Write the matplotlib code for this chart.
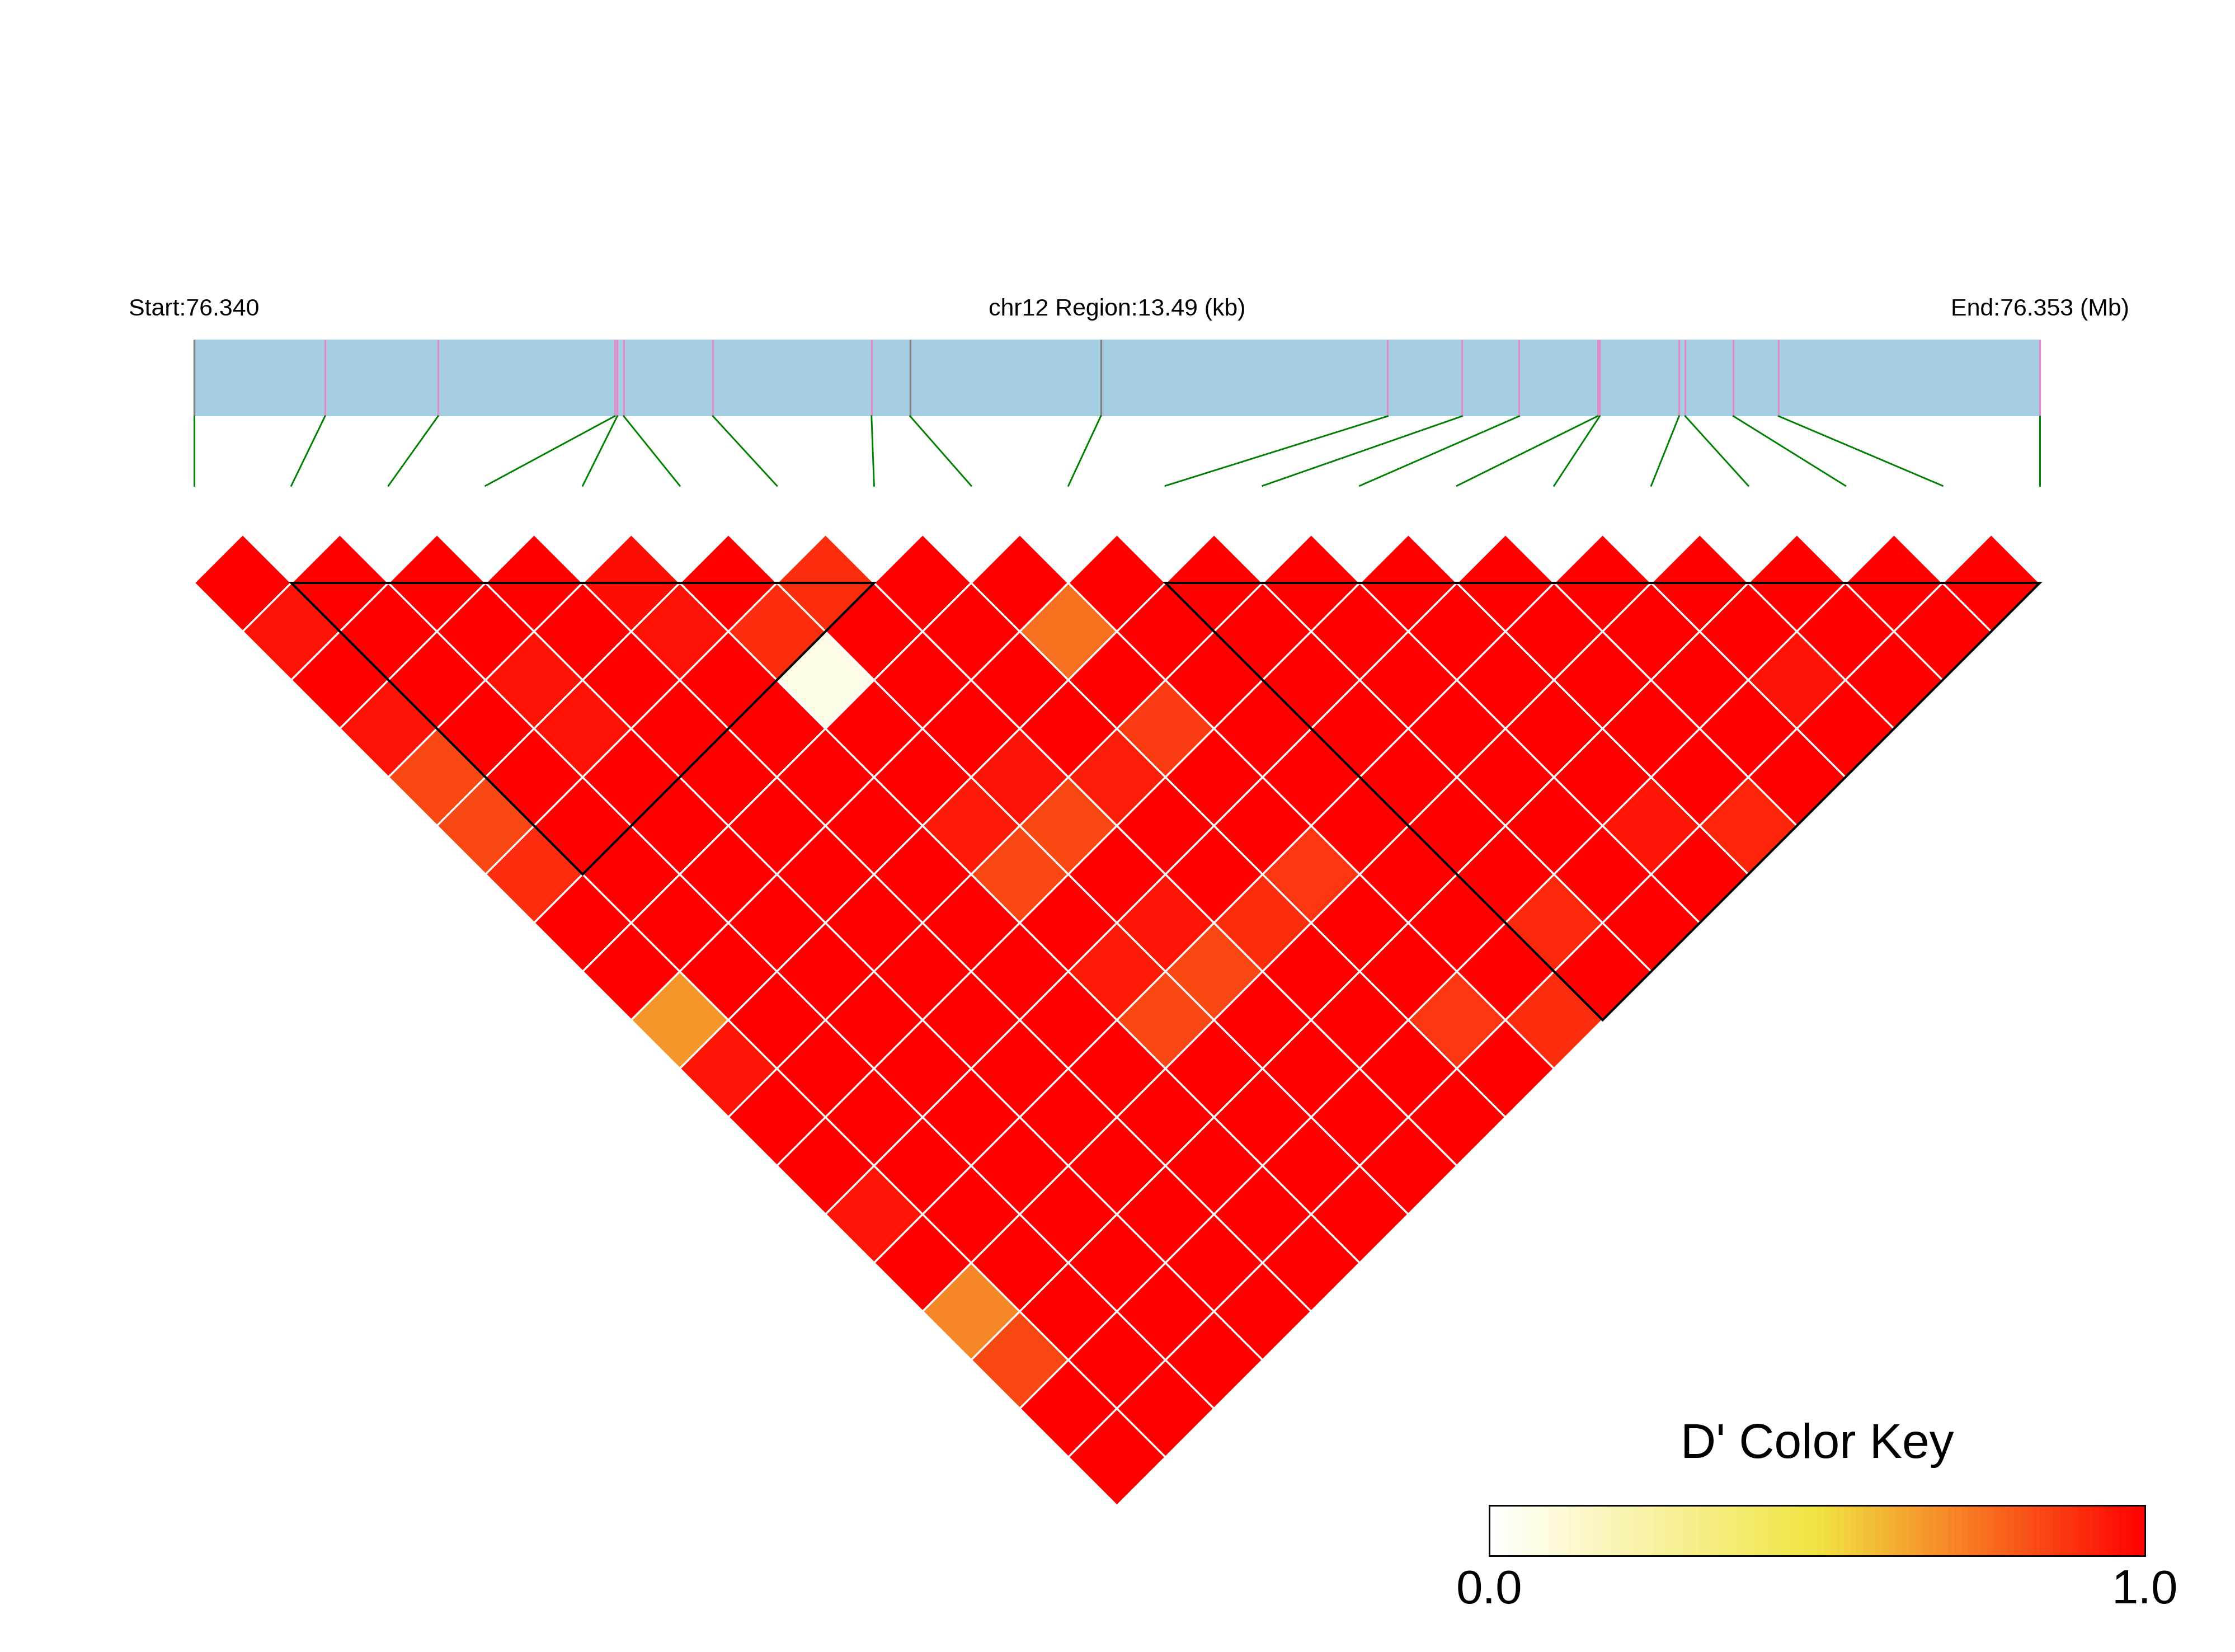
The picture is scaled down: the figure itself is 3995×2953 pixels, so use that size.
import numpy as np
import matplotlib
matplotlib.use("Agg")
import matplotlib.pyplot as plt
from matplotlib.colors import LinearSegmentedColormap
from matplotlib.patches import Polygon, Rectangle

plt.rcParams['font.family'] = ['Liberation Sans', 'DejaVu Sans']

# ---------------- data ----------------
chrom = "chr12"
snp_pos = [76339850, 76340807, 76341633, 76342924, 76342943, 76342990,
           76343642, 76344801, 76345083, 76346477, 76348574, 76349118,
           76349535, 76350108, 76350124, 76350704, 76350749, 76351101,
           76351432, 76353340]

# D' rows: row i holds D'(i, j) for j = i+1 .. 19
dprime_rows = [
    [1, 0.96, 1, 0.96, 0.84, 0.84, 0.90, 1, 1, 0.67, 0.95, 1, 1, 0.95, 1, 0.70, 0.84, 1, 1],
    [1, 1, 1, 1, 1, 1, 1, 1, 1, 1, 1, 1, 1, 1, 1, 1, 1, 1],
    [1, 1, 0.96, 0.96, 1, 1, 1, 1, 1, 1, 1, 1, 1, 1, 1, 1, 1],
    [1, 1, 1, 1, 1, 1, 1, 1, 1, 1, 1, 1, 1, 1, 1, 1],
    [0.97, 0.96, 1, 1, 1, 1, 1, 1, 1, 1, 1, 1, 1, 1, 1],
    [1, 0.90, 0.07, 1, 1, 0.94, 0.84, 1, 0.94, 0.84, 1, 1, 1, 1],
    [0.90, 1, 1, 1, 0.96, 0.84, 1, 0.95, 0.84, 1, 1, 1, 1],
    [1, 1, 1, 1, 0.93, 1, 1, 0.90, 1, 1, 1, 1],
    [1, 0.75, 1, 0.87, 1, 1, 0.88, 1, 1, 0.88, 1],
    [1, 1, 1, 1, 1, 1, 1, 1, 1, 0.90],
    [1, 1, 1, 1, 1, 1, 1, 0.91, 1],
    [1, 1, 1, 1, 1, 1, 1, 1],
    [1, 1, 1, 1, 1, 0.95, 1],
    [1, 1, 1, 1, 1, 0.92],
    [1, 1, 1, 1, 1],
    [1, 1, 0.96, 1],
    [1, 1, 1],
    [1, 1],
    [1],
]

blocks = [(1, 7), (10, 19)]   # first and last SNP index of each LD block

key_title = "D' Color Key"
key_ticks = ["0.0", "1.0"]

# ---------------- style ----------------
cmap = LinearSegmentedColormap.from_list("ldkey", ["#FFFFFF", "#F0E442", "#FF0000"])
bar_color = "#A6CEE3"
in_block_color = "#E08CC8"
out_block_color = "#808080"
link_color = "#008000"

W, H, DPI = 3995, 2953, 300
fig = plt.figure(figsize=(W / DPI, H / DPI), dpi=DPI)
ax = fig.add_axes([0, 0, 1, 1])
ax.set_axis_off()

unit = 173.63            # pixels per SNP step
x0_px, top_px = 347.0, 1042.0
ax.set_xlim(-x0_px / unit, -x0_px / unit + W / unit)
ax.set_ylim(top_px / unit - H / unit, top_px / unit)

n = len(snp_pos)

# ---- LD cells ----
for i, row in enumerate(dprime_rows):
    for k, d in enumerate(row):
        j = i + 1 + k
        cx = (i + j) / 2.0
        cy = -(j - i - 1) / 2.0
        poly = Polygon([(cx, cy + 0.5), (cx + 0.5, cy), (cx, cy - 0.5), (cx - 0.5, cy)],
                       closed=True, facecolor=cmap(float(d)), edgecolor="white",
                       linewidth=0.8, zorder=2)
        ax.add_patch(poly)

# ---- block outlines ----
for a, b in blocks:
    tri = Polygon([(a, 0), (b, 0), ((a + b) / 2.0, -(b - a) / 2.0)], closed=True,
                  fill=False, edgecolor="black", linewidth=1.0, zorder=4)
    ax.add_patch(tri)

# ---- gene / region bar ----
bar_top, bar_bot, link_end = 2.506, 1.717, 1.0
ax.add_patch(Rectangle((0, bar_bot), n - 1, bar_top - bar_bot,
                       facecolor=bar_color, edgecolor="none", zorder=1))
span = snp_pos[-1] - snp_pos[0]
in_block = set()
for a, b in blocks:
    in_block.update(range(a, b + 1))
for i, p in enumerate(snp_pos):
    xb = (p - snp_pos[0]) / span * (n - 1)
    col = in_block_color if i in in_block else out_block_color
    ax.plot([xb, xb], [bar_bot, bar_top], color=col, lw=0.8, zorder=2,
            solid_capstyle="butt")
    ax.plot([xb, i], [bar_bot, link_end], color=link_color, lw=0.7, zorder=2)

txt_y = 2.753
fs = 10.3
ax.text(0, txt_y, f"Start:{snp_pos[0] / 1e6:.3f}", ha="center", va="baseline", fontsize=fs)
ax.text((n - 1) / 2.0, txt_y, f"{chrom} Region:{span / 1000:.2f} (kb)",
        ha="center", va="baseline", fontsize=fs)
ax.text(n - 1, txt_y, f"End:{snp_pos[-1] / 1e6:.3f} (Mb)", ha="center", va="baseline", fontsize=fs)

# ---- colour key ----
kl, kb, kw, kh = 2662 / W, 1 - 2781 / H, (3834 - 2662) / W, (2781 - 2691) / H
cax = fig.add_axes([kl, kb, kw, kh])
edges = np.linspace(0, 1, 101)
vals = ((edges[:-1] + edges[1:]) / 2)[None, :]
cax.pcolormesh(edges, [0, 1], vals, cmap=cmap, vmin=0, vmax=1, shading="flat")
cax.set_xlim(0, 1)
cax.set_ylim(0, 1)
cax.set_xticks([])
cax.set_yticks([])
for s in cax.spines.values():
    s.set_linewidth(0.7)
    s.set_color("black")

fig.text(kl + kw / 2, 1 - 2606 / H, key_title, ha="center", va="baseline", fontsize=21)
fig.text(kl, 1 - 2866 / H, key_ticks[0], ha="center", va="baseline", fontsize=20.5)
fig.text(kl + kw, 1 - 2866 / H, key_ticks[1], ha="center", va="baseline", fontsize=20.5)

fig.savefig("out.png", dpi=DPI, facecolor="white")
